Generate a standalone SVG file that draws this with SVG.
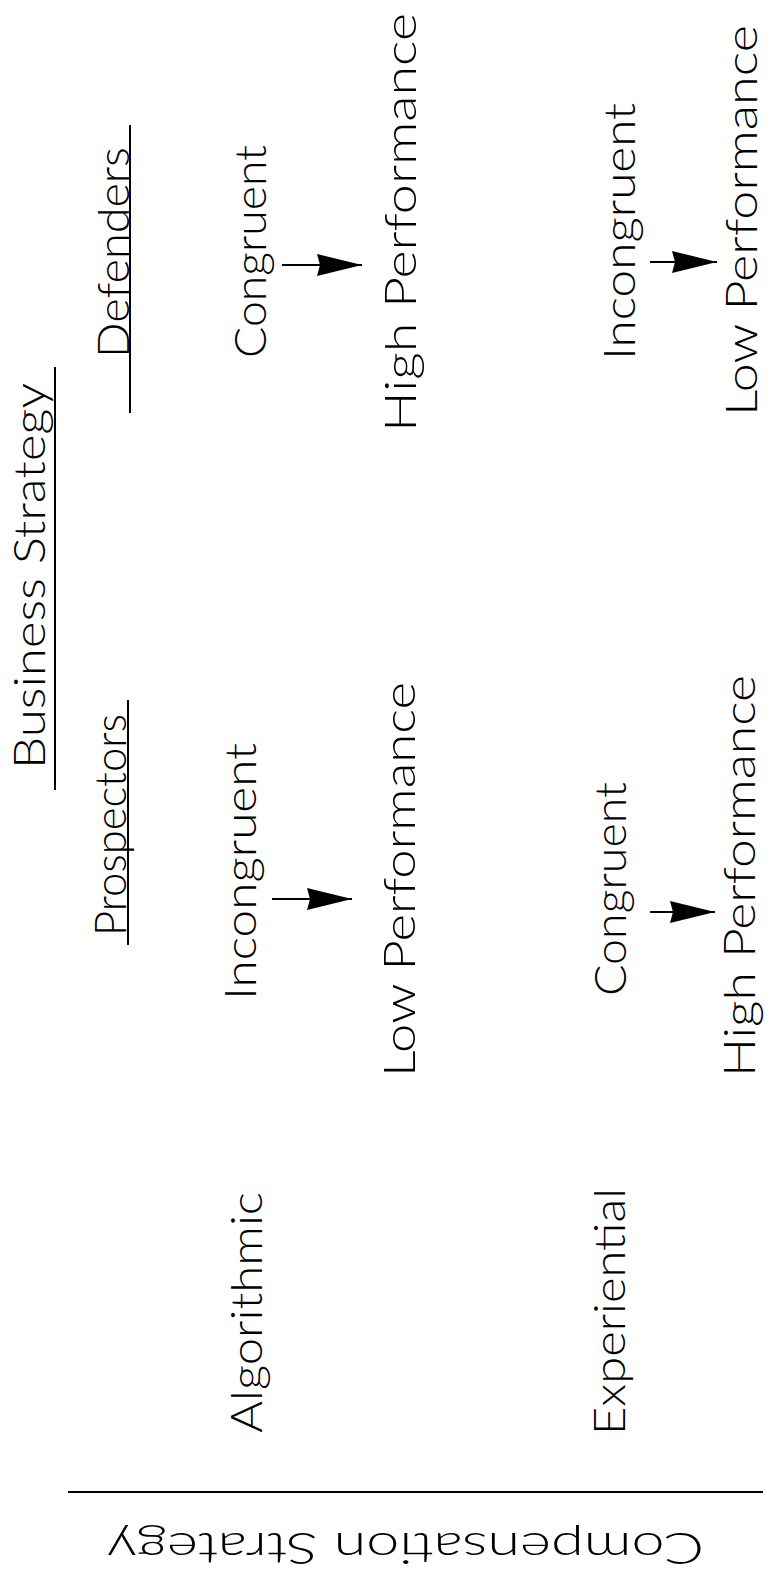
<svg xmlns="http://www.w3.org/2000/svg" width="767" height="1577" viewBox="0 0 767 1577">
  <style>
    .lbl { font-family: "Lato", "Liberation Sans", sans-serif; font-weight: 300; font-size: 44px; fill: #000; }
    .rule { stroke: #000; stroke-width: 2; fill: none; }
    .conn { stroke: #000; stroke-width: 2; fill: none; marker-end: url(#head); }
  </style>
  <defs>
    <marker id="head" viewBox="0 0 45 22" refX="45" refY="11" markerWidth="45" markerHeight="22" markerUnits="userSpaceOnUse" orient="auto">
      <path d="M0,0 L45,11 L0,22 L3,11 z" fill="#000"/>
    </marker>
  </defs>
  <rect width="767" height="1577" fill="#fff"/>

  <!-- column headings (page is turned: text runs bottom-to-top) -->
  <g id="business-strategy">
    <text class="lbl" transform="translate(45,769) rotate(-90)" textLength="386" lengthAdjust="spacingAndGlyphs">Business Strategy</text>
    <line class="rule" x1="55" y1="367" x2="55" y2="790"/>
  </g>
  <g id="prospectors">
    <text class="lbl" transform="translate(126,936) rotate(-90)" textLength="222" lengthAdjust="spacingAndGlyphs">Prospectors</text>
    <line class="rule" x1="128" y1="700" x2="128" y2="945"/>
  </g>
  <g id="defenders">
    <text class="lbl" transform="translate(129,358) rotate(-90)" textLength="211" lengthAdjust="spacingAndGlyphs">Defenders</text>
    <line class="rule" x1="130" y1="125" x2="130" y2="413"/>
  </g>

  <!-- row headings -->
  <g id="algorithmic">
    <text class="lbl" transform="translate(262,1433) rotate(-90)" textLength="241" lengthAdjust="spacingAndGlyphs">Algorithmic</text>
  </g>
  <g id="experiential">
    <text class="lbl" transform="translate(625,1435) rotate(-90)" textLength="247" lengthAdjust="spacingAndGlyphs">Experiential</text>
  </g>

  <!-- Algorithmic x Prospectors -->
  <g id="alg-pro-fit">
    <text class="lbl" transform="translate(256,1000) rotate(-90)" textLength="257" lengthAdjust="spacingAndGlyphs">Incongruent</text>
  </g>
  <g id="alg-pro-result">
    <text class="lbl" transform="translate(415,1077) rotate(-90)" textLength="395" lengthAdjust="spacingAndGlyphs">Low Performance</text>
  </g>

  <!-- Algorithmic x Defenders -->
  <g id="alg-def-fit">
    <text class="lbl" transform="translate(266,358) rotate(-90)" textLength="213" lengthAdjust="spacingAndGlyphs">Congruent</text>
  </g>
  <g id="alg-def-result">
    <text class="lbl" transform="translate(416,432) rotate(-90)" textLength="419" lengthAdjust="spacingAndGlyphs">High Performance</text>
  </g>

  <!-- Experiential x Prospectors -->
  <g id="exp-pro-fit">
    <text class="lbl" transform="translate(626,996) rotate(-90)" textLength="214" lengthAdjust="spacingAndGlyphs">Congruent</text>
  </g>
  <g id="exp-pro-result">
    <text class="lbl" transform="translate(755,1077) rotate(-90)" textLength="402" lengthAdjust="spacingAndGlyphs">High Performance</text>
  </g>

  <!-- Experiential x Defenders -->
  <g id="exp-def-fit">
    <text class="lbl" transform="translate(635,360) rotate(-90)" textLength="257" lengthAdjust="spacingAndGlyphs">Incongruent</text>
  </g>
  <g id="exp-def-result">
    <text class="lbl" transform="translate(757,416) rotate(-90)" textLength="391" lengthAdjust="spacingAndGlyphs">Low Performance</text>
  </g>

  <!-- axis title and rule -->
  <g id="compensation-strategy">
    <line class="rule" x1="68" y1="1492" x2="763" y2="1492"/>
    <text class="lbl" transform="translate(704,1533) rotate(180)" textLength="597" lengthAdjust="spacingAndGlyphs">Compensation Strategy</text>
  </g>

  <!-- fit leads to performance -->
  <g id="connectors">
    <line class="conn" x1="282" y1="265" x2="362" y2="265"/>
    <line class="conn" x1="272" y1="899" x2="352" y2="899"/>
    <line class="conn" x1="650" y1="262" x2="717" y2="262"/>
    <line class="conn" x1="650" y1="912" x2="715" y2="912"/>
  </g>
</svg>
